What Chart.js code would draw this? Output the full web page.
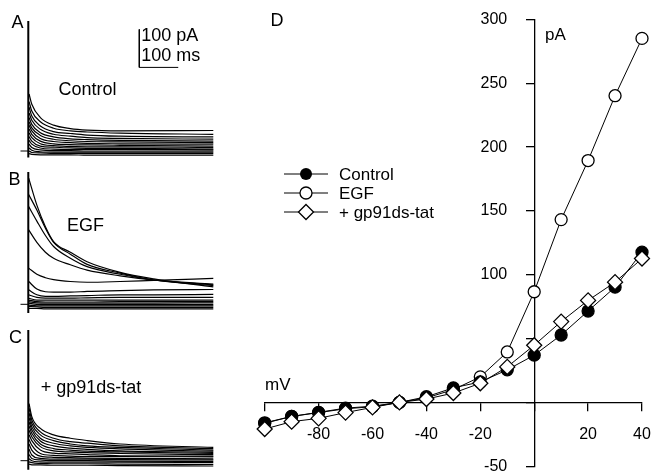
<!DOCTYPE html>
<html><head><meta charset="utf-8">
<script src="https://cdn.jsdelivr.net/npm/chart.js@4/dist/chart.umd.min.js"></script>
<style>
html,body{margin:0;padding:0;background:#fff;}
#wrap{position:relative;width:652px;height:475px;overflow:hidden;font-family:"Liberation Sans",Arial,sans-serif;color:#000;}
canvas{position:absolute;left:0;top:0;}
.lbl{position:absolute;white-space:nowrap;line-height:1;}
</style></head><body>
<div id="wrap">
<canvas id="cA" width="652" height="475"></canvas>
<canvas id="cB" width="652" height="475"></canvas>
<canvas id="cC" width="652" height="475"></canvas>
<canvas id="cD" width="652" height="475"></canvas>

<div class="lbl" style="left:11.5px;top:12.6px;font-size:18px">A</div>
<div class="lbl" style="left:8.6px;top:170.3px;font-size:18px">B</div>
<div class="lbl" style="left:9px;top:327.5px;font-size:18px">C</div>
<div class="lbl" style="left:270.6px;top:10.6px;font-size:18px">D</div>
<div class="lbl" style="left:58.5px;top:80.2px;font-size:18px">Control</div>
<div class="lbl" style="left:67px;top:216px;font-size:18px">EGF</div>
<div class="lbl" style="left:40.8px;top:378.3px;font-size:18px">+ gp91ds-tat</div>
<div class="lbl" style="left:141.3px;top:26px;font-size:18px">100 pA</div>
<div class="lbl" style="left:141.3px;top:46px;font-size:18px">100 ms</div>
<div class="lbl" style="left:545px;top:26.1px;font-size:17px">pA</div>
<div class="lbl" style="left:265px;top:376.1px;font-size:17px">mV</div>

<svg class="lbl" style="left:282px;top:164px" width="50" height="20"><line x1="2" y1="10" x2="46" y2="10" stroke="#000" stroke-width="1"/><circle cx="24" cy="10" r="6" fill="#000"/></svg>
<svg class="lbl" style="left:282px;top:183.3px" width="50" height="20"><line x1="2" y1="10" x2="46" y2="10" stroke="#000" stroke-width="1"/><circle cx="24" cy="10" r="6" fill="#fff" stroke="#000" stroke-width="1.3"/></svg>
<svg class="lbl" style="left:282px;top:202.3px" width="50" height="20"><line x1="2" y1="10" x2="46" y2="10" stroke="#000" stroke-width="1"/><polygon points="24,2.5 31.5,10 24,17.5 16.5,10" fill="#fff" stroke="#000" stroke-width="1.3"/></svg>
<div class="lbl" style="left:339px;top:165.7px;font-size:17px">Control</div>
<div class="lbl" style="left:339px;top:185px;font-size:17px">EGF</div>
<div class="lbl" style="left:339px;top:204px;font-size:17px">+ gp91ds-tat</div>
</div>
<script>
// ---------- Panel D: I-V data ----------
const voltages = [-100,-90,-80,-70,-60,-50,-40,-30,-20,-10,0,10,20,30,40];
const controlIV = [-16.4,-11,-8,-5,-3.4,0,4.4,11.4,16,25.5,37,52.8,71.6,90.3,117.7];
const egfIV = [-16,-11,-7.8,-4.5,-3,0,3.5,10,20,39.5,86.7,143.2,189.5,240.3,285.2];
const tatIV = [-20.9,-15.1,-12.5,-8,-3.9,0,2.6,7.3,15,27.8,44.8,63.3,79.9,94.2,112.7];
const xTickHidden = [-100,0];
const yTickHidden = [0,50];

// ---------- Panels A-C: current traces (pA vs ms) ----------
const timesA = [2, 9, 31, 65, 108, 151, 236, 475];
const tracesA = [
  [150,123,88,68,59,55,53,54],
  [130,105,77,60,53,50,47,44],
  [115,92,66,51,46,42,39,37],
  [100,81,57,44,39,35,33,31],
  [88,70,48,37,32,30,28,26],
  [77,61,41,31,27,25,24,22],
  [68,53,33,25,22,20,19,18],
  [58,44,26,19,17,16,15,13],
  [48,35,19,14,12,11,11,9],
  [38,26,13,10,8,7,7,5],
  [28,18,8,5,4,4,4,3],
  [18,9,3,1,1,0,0,0],
  [8,2,-2,-3,-3,-3,-3,-3],
  [0,-4,-5,-6,-6,-6,-6,-6],
  [-7,-9,-10,-10,-10,-11,-11,-11]
];
const timesB = [1, 22, 44, 65, 108, 151, 236, 322, 475];
const tracesB = [
  [332,261,204,165,137,112,84,67,46],
  [289,248,200,163,132,105,82,64,49],
  [257,219,181,152,121,99,79,64,51],
  [196,163,137,121,104,90,75,64,53],
  [95,79,70,65,60,58,60,63,68],
  [60,40,33,32,32,34,36,38,39],
  [38,25,21,21,22,23,25,25,26],
  [25,18,16,16,16,17,18,18,18],
  [16,11,11,11,11,11,11,11,11],
  [11,7,6,6,6,6,7,7,7],
  [7,4,3,3,3,3,3,3,4],
  [3,0,-1,-1,-1,-1,-1,-1,-1],
  [-2,-4,-4,-4,-4,-4,-4,-4,-4],
  [-6,-7,-8,-8,-8,-8,-8,-8,-8],
  [-11,-11,-12,-12,-12,-12,-12,-12,-12]
];
const timesC = [2, 9, 31, 65, 108, 151, 236, 475];
const tracesC = [
  [150,116,85,68,59,53,44,35],
  [138,107,76,59,50,46,39,32],
  [125,98,68,53,44,39,35,28],
  [113,89,59,46,39,35,31,25],
  [102,81,52,39,33,30,26,22],
  [91,72,44,32,28,25,23,19],
  [80,63,37,26,23,21,19,16],
  [68,53,28,20,18,16,13,12],
  [56,41,19,14,12,11,11,10],
  [44,28,12,9,8,7,6,5],
  [30,15,6,4,4,4,3,2],
  [16,6,2,0,0,0,-1,-2],
  [5,0,-3,-4,-4,-4,-4,-5],
  [-3,-5,-7,-8,-8,-8,-9,-10],
  [-9,-11,-11,-12,-12,-12,-13,-14]
];
// capacitive transient extents (pA) at t = 0
const spikeA = [342, -17];
const spikeB = [348, -23];
const spikeC = [344, -24];
// scale bar: 100 pA, 100 ms (drawn in panel A units)
const scaleBarT = [285, 285, 385];
const scaleBarI = [320, 220, 220];

Chart.defaults.font.family = '"Liberation Sans", Arial, sans-serif';
Chart.defaults.color = '#000';

function pts(xs, ys){ return xs.map((x,i)=>({x:x, y:ys[i]})); }

function traceChart(id, times, traces, spike, pad, extra){
  const ds = traces.map(v => ({
    data: pts(times, v), borderColor:'#000', borderWidth:1.2, pointRadius:0,
    cubicInterpolationMode:'monotone', clip:false, fill:false
  }));
  ds.push({data: pts([0,0], spike), borderColor:'#000', borderWidth:2, pointRadius:0, tension:0, clip:false});
  ds.push({data: pts([-20,0],[0,0]), borderColor:'#000', borderWidth:1, pointRadius:0, tension:0, clip:false});
  if (extra) ds.push(extra);
  new Chart(document.getElementById(id), {
    type:'line',
    data:{datasets: ds},
    options:{
      responsive:false, animation:false, events:[],
      layout:{padding:{left:pad.left, right:pad.right, top:pad.top, bottom:pad.bottom}},
      plugins:{legend:{display:false}, tooltip:{enabled:false}},
      scales:{
        x:{type:'linear', display:false, min:-20, max:475},
        y:{type:'linear', display:false, min:pad.ymin, max:pad.ymax}
      }
    }
  });
}

traceChart('cA', timesA, tracesA, spikeA,
  {left:20.5, right:438.7, top:10.4, bottom:308.8, ymin:-40, ymax:370},
  {data: pts(scaleBarT, scaleBarI), borderColor:'#000', borderWidth:1, pointRadius:0, tension:0, clip:false});
traceChart('cB', timesB, tracesB, spikeB,
  {left:20.5, right:438.7, top:163.7, bottom:155.5, ymin:-40, ymax:370});
traceChart('cC', timesC, tracesC, spikeC,
  {left:20.5, right:438.7, top:320.1, bottom:1, ymin:-35, ymax:370});

function zeroFit(s, horiz){
  if (horiz) s.height = 0; else s.width = 0;
  s.paddingLeft = 0; s.paddingRight = 0; s.paddingTop = 0; s.paddingBottom = 0;
}
const shiftYLabels = {
  id:'shiftYLabels',
  beforeDraw(chart){
    const s = chart.scales.y;
    const items = s.getLabelItems();
    if (items && !items._shifted){
      items.forEach(it => { if (it.options && it.options.translation) it.options.translation[0] -= 27; });
      items._shifted = true;
    }
  }
};

new Chart(document.getElementById('cD'), {
  type:'line',
  data:{datasets:[
    {label:'+ gp91ds-tat', data: pts(voltages, tatIV), order:0, borderColor:'#000', borderWidth:1,
     pointStyle:'rectRot', pointRadius:7.5, pointBackgroundColor:'#fff', pointBorderColor:'#000', pointBorderWidth:1.3, tension:0, clip:false},
    {label:'Control', data: pts(voltages, controlIV), order:1, borderColor:'#000', borderWidth:1,
     pointStyle:'circle', pointRadius:6, pointBackgroundColor:'#000', pointBorderColor:'#000', pointBorderWidth:1.3, tension:0, clip:false},
    {label:'EGF', data: pts(voltages, egfIV), order:2, borderColor:'#000', borderWidth:1,
     pointStyle:'circle', pointRadius:6, pointBackgroundColor:'#fff', pointBorderColor:'#000', pointBorderWidth:1.3, tension:0, clip:false}
  ]},
  plugins:[shiftYLabels],
  options:{
    responsive:false, animation:false, events:[],
    layout:{padding:{left:264.7, right:10, top:19.5, bottom:7.7}},
    plugins:{legend:{display:false}, tooltip:{enabled:false}},
    scales:{
      x:{type:'linear', min:-100, max:40, position:{y:0},
         afterFit:(s)=>zeroFit(s,true),
         ticks:{stepSize:20, autoSkip:false, maxRotation:0, padding:15, font:{size:16},
                callback:(v)=> xTickHidden.includes(v) ? '' : String(v)},
         grid:{drawOnChartArea:false, drawTicks:true, tickLength:8, color:'#000', lineWidth:1.3},
         border:{display:true, color:'#000', width:1.3}},
      y:{type:'linear', min:-50, max:300, position:{x:0},
         afterFit:(s)=>zeroFit(s,false),
         ticks:{stepSize:50, autoSkip:false, padding:18, font:{size:16},
                callback:(v)=> yTickHidden.includes(v) ? '' : String(v)},
         grid:{drawOnChartArea:false, drawTicks:true, tickLength:8, color:'#000', lineWidth:1.3},
         border:{display:true, color:'#000', width:1.3}}
    }
  }
});
</script>
</body></html>
